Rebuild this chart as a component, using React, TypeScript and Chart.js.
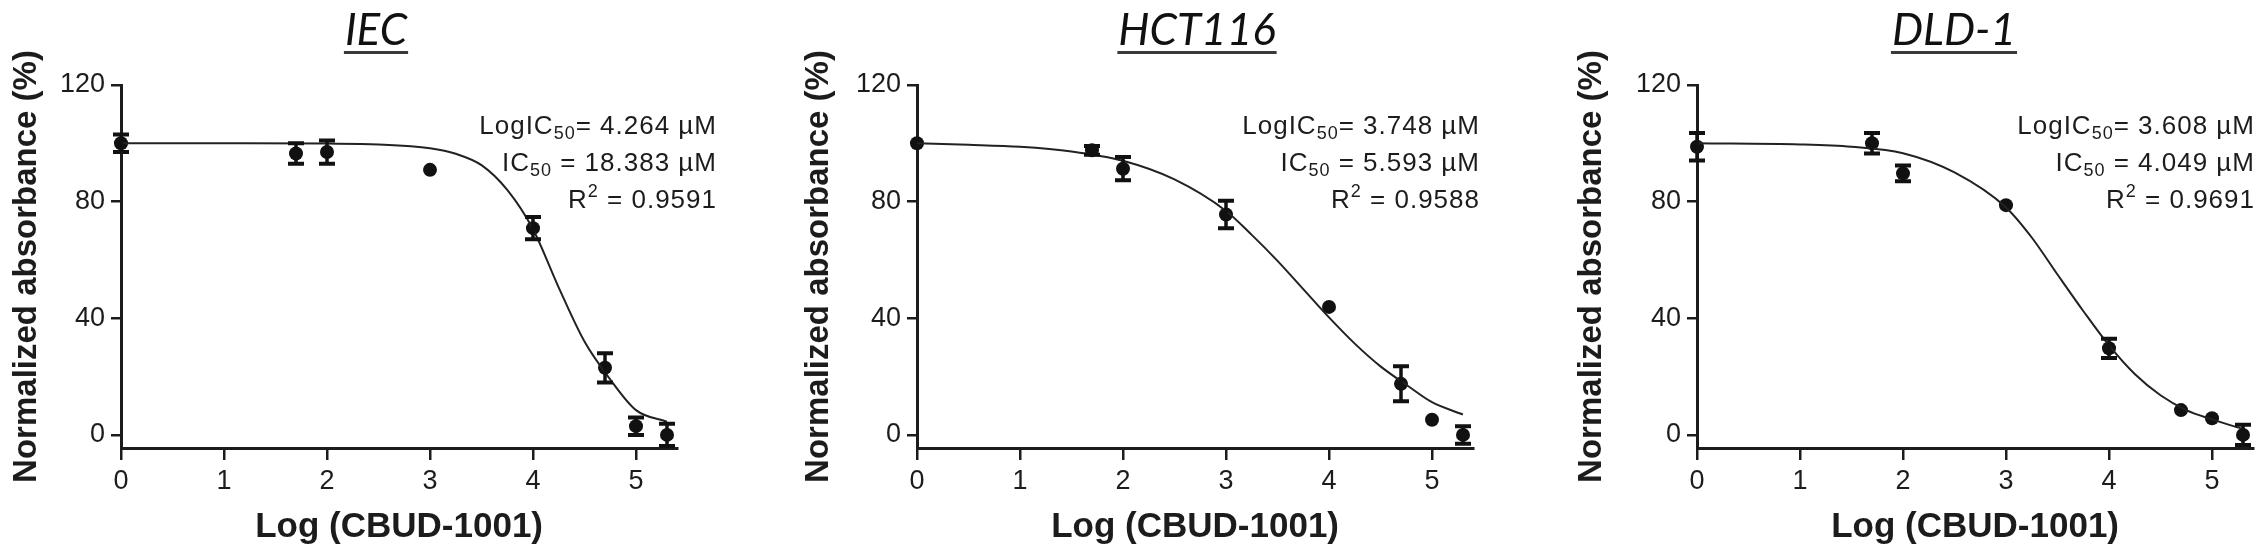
import React, { useEffect, useRef } from "react";
import { Chart, registerables } from "chart.js";
Chart.register(...registerables);

// ---------- data ----------
const xLog = [0, 1.699, 2, 3, 4, 4.699, 5, 5.301];

const iecMean = [100, 96.5, 97, 90.9, 70.9, 23, 3, 0];
const iecSem = [3, 3.5, 4, 0, 3.8, 5, 3, 3.8];
const iecCurveX = [0, 1, 2, 2.5, 3, 3.25, 3.5, 3.75, 4, 4.25, 4.5, 4.75, 5, 5.3];
const iecCurveY = [100, 100, 99.9, 99.6, 98.3, 96.4, 92.5, 84.0, 70.5, 50.5, 32, 19, 8.5, 4.5];

const hctMean = [100, 97.6, 91.3, 75.6, 43.9, 17.5, 5.2, 0];
const hctSem = [0, 1.5, 4, 4.7, 0, 6, 0, 3];
const hctCurveX = [0, 0.5, 1, 1.5, 2, 2.5, 3, 3.25, 3.5, 3.75, 4, 4.25, 4.5, 4.75, 5, 5.3];
const hctCurveY = [100, 99.5, 98.8, 97.2, 94, 87.6, 76.8, 68.6, 59.7, 50, 40.3, 31.3, 23.5, 17.2, 11.2, 7];

const dldMean = [98.8, 100, 89.7, 78.8, 29.7, 8.5, 5.7, 0];
const dldSem = [4.7, 3.5, 2.7, 0, 3.3, 0, 0, 3.5];
const dldCurveX = [0, 1, 1.5, 2, 2.5, 3, 3.25, 3.5, 3.75, 4, 4.25, 4.5, 4.75, 5, 5.3];
const dldCurveY = [100, 99.6, 98.8, 96.6, 90, 78, 67.7, 55, 42.5, 30.7, 20.9, 13.6, 8.5, 5.3, 2];

const yTicks = [0, 40, 80, 120];
const xTicks = [0, 1, 2, 3, 4, 5];
const xTitle = "Log (CBUD-1001)";
const yTitle = "Normalized absorbance (%)";
const panelTitles = ["IEC", "HCT116", "DLD-1"];
const logIC50 = ["4.264", "3.748", "3.608"];
const ic50 = ["18.383", "5.593", "4.049"];
const rSquared = ["0.9591", "0.9588", "0.9691"];

const means = [iecMean, hctMean, dldMean];
const sems = [iecSem, hctSem, dldSem];
const curveXs = [iecCurveX, hctCurveX, dldCurveX];
const curveYs = [iecCurveY, hctCurveY, dldCurveY];

// ---------- layout / style ----------
const H = 554;
const PANELS = [
  { left: 0, width: 780, axisX: 121, yTitlePad: 7, titleCx: 376, annRight: 717 },
  { left: 780, width: 780, axisX: 917, yTitlePad: 19, titleCx: 1197, annRight: 1480 },
  { left: 1560, width: 708, axisX: 1697, yTitlePad: 12, titleCx: 1954, annRight: 2255 },
];
const X_MAX = 5.4;
const UNIT = 103;
const TOP = 85;
const BOTTOM = 448;
const INK = "#1c1c1c";
const FAMILY = "'Liberation Sans', Arial, Helvetica, sans-serif";

type Seg = { t: string; sub?: boolean; sup?: boolean };

function drawRich(ctx: CanvasRenderingContext2D, segs: Seg[], rightX: number, baseline: number) {
  const main = `26px ${FAMILY}`;
  const small = `18px ${FAMILY}`;
  ctx.save();
  (ctx as any).letterSpacing = "1px";
  ctx.fillStyle = INK;
  ctx.textAlign = "left";
  ctx.textBaseline = "alphabetic";
  let total = 0;
  const parts = segs.map((s) => {
    ctx.font = s.sub || s.sup ? small : main;
    const w = ctx.measureText(s.t).width;
    total += w;
    return { ...s, w };
  });
  let x = rightX - total;
  for (const p of parts) {
    ctx.font = p.sub || p.sup ? small : main;
    const dy = p.sub ? 5 : p.sup ? -11 : 0;
    ctx.fillText(p.t, x, baseline + dy);
    x += p.w;
  }
  ctx.restore();
}

function Panel({ idx }: { idx: number }) {
  const ref = useRef<HTMLCanvasElement | null>(null);
  const p = PANELS[idx];

  useEffect(() => {
    const canvas = ref.current;
    if (!canvas) return;
    const chartRight = p.axisX + X_MAX * UNIT;
    const padRight = p.left + p.width - chartRight;
    const mean = means[idx];
    const sem = sems[idx];

    const decor = {
      id: "decor" + idx,
      afterDatasetsDraw(chart: any) {
        const ctx: CanvasRenderingContext2D = chart.ctx;
        const xs = chart.scales.x;
        const ys = chart.scales.y;
        // error bars
        ctx.save();
        ctx.strokeStyle = "#111";
        xLog.forEach((xv, i) => {
          const e = sem[i];
          if (!e) return;
          const px = xs.getPixelForValue(xv);
          const y1 = ys.getPixelForValue(mean[i] + e);
          const y2 = ys.getPixelForValue(mean[i] - e);
          ctx.lineWidth = 3.5;
          ctx.beginPath();
          ctx.moveTo(px, y1);
          ctx.lineTo(px, y2);
          ctx.stroke();
          ctx.lineWidth = 4;
          ctx.beginPath();
          ctx.moveTo(px - 8, y1);
          ctx.lineTo(px + 8, y1);
          ctx.moveTo(px - 8, y2);
          ctx.lineTo(px + 8, y2);
          ctx.stroke();
        });
        ctx.restore();
      },
      afterDraw(chart: any) {
        const ctx: CanvasRenderingContext2D = chart.ctx;
        // panel title
        ctx.save();
        ctx.font = `italic 44px Lato, 'Open Sans', sans-serif`;
        ctx.fillStyle = "#111";
        ctx.textAlign = "center";
        ctx.textBaseline = "alphabetic";
        const cx = p.titleCx - p.left;
        const title = panelTitles[idx];
        ctx.fillText(title, cx, 45);
        const w = ctx.measureText(title).width;
        ctx.strokeStyle = "#3a3a3a";
        ctx.lineWidth = 3;
        ctx.beginPath();
        ctx.moveTo(cx - w / 2 - 1, 52.5);
        ctx.lineTo(cx + w / 2 + 1, 52.5);
        ctx.stroke();
        ctx.restore();
        // fit annotation
        const r = p.annRight - p.left;
        drawRich(ctx, [{ t: "LogIC" }, { t: "50", sub: true }, { t: "= " + logIC50[idx] + " \u00b5M" }], r, 134);
        drawRich(ctx, [{ t: "IC" }, { t: "50", sub: true }, { t: " = " + ic50[idx] + " \u00b5M" }], r, 171);
        drawRich(ctx, [{ t: "R" }, { t: "2", sup: true }, { t: " = " + rSquared[idx] }], r, 208);
      },
    };

    const chart = new Chart(canvas, {
      type: "scatter",
      data: {
        datasets: [
          {
            type: "line",
            data: curveXs[idx].map((x, i) => ({ x, y: curveYs[idx][i] })),
            borderColor: "#222",
            borderWidth: 2,
            pointRadius: 0,
            fill: false,
            cubicInterpolationMode: "monotone",
            showLine: true,
          } as any,
          {
            data: xLog.map((x, i) => ({ x, y: mean[i] })),
            backgroundColor: "#111",
            borderWidth: 0,
            pointRadius: 7,
            pointHoverRadius: 7,
            clip: false,
          } as any,
        ],
      },
      options: {
        animation: false,
        responsive: false,
        devicePixelRatio: 1,
        events: [],
        layout: { padding: { left: 0, top: TOP, right: padRight, bottom: 0 } },
        plugins: { legend: { display: false }, tooltip: { enabled: false }, title: { display: false } },
        scales: {
          x: {
            type: "linear",
            min: 0,
            max: X_MAX,
            afterBuildTicks: (s: any) => {
              s.ticks = xTicks.map((v) => ({ value: v }));
            },
            afterFit: (s: any) => {
              s.height = H - BOTTOM;
            },
            ticks: {
              color: INK,
              font: { family: FAMILY, size: 27 },
              padding: 5,
              maxRotation: 0,
              autoSkip: false,
              callback: (v: any) => String(v),
            },
            grid: { drawOnChartArea: false, drawTicks: true, tickLength: 12, lineWidth: 2.5, color: INK },
            border: { display: true, width: 3, color: INK },
            title: {
              display: true,
              text: xTitle,
              color: INK,
              font: { family: FAMILY, size: 35, weight: "bold" },
              padding: { top: 0, bottom: 6 },
            },
          },
          y: {
            type: "linear",
            min: -4.5,
            max: 120,
            afterBuildTicks: (s: any) => {
              s.ticks = yTicks.map((v) => ({ value: v }));
            },
            afterFit: (s: any) => {
              s.width = p.axisX - p.left;
            },
            ticks: {
              color: INK,
              font: { family: FAMILY, size: 27 },
              padding: 6,
              autoSkip: false,
              callback: (v: any) => String(v),
            },
            grid: { drawOnChartArea: false, drawTicks: true, tickLength: 10, lineWidth: 2.5, color: INK },
            border: { display: true, width: 3, color: INK },
            title: {
              display: true,
              text: yTitle,
              color: INK,
              font: { family: FAMILY, size: 33, weight: "bold" },
              padding: { top: p.yTitlePad, bottom: 0 },
            },
          },
        },
      } as any,
      plugins: [decor],
    });
    return () => chart.destroy();
  }, [idx]);

  return (
    <div style={{ position: "absolute", left: p.left, top: 0, width: p.width, height: H }}>
      <canvas ref={ref} width={p.width} height={H} style={{ width: p.width, height: H, display: "block" }} />
    </div>
  );
}

export default function App() {
  return (
    <div
      style={{
        position: "fixed",
        left: 0,
        top: 0,
        width: 2268,
        height: H,
        background: "#fff",
        overflow: "hidden",
      }}
    >
      {PANELS.map((_, i) => (
        <Panel key={i} idx={i} />
      ))}
    </div>
  );
}
